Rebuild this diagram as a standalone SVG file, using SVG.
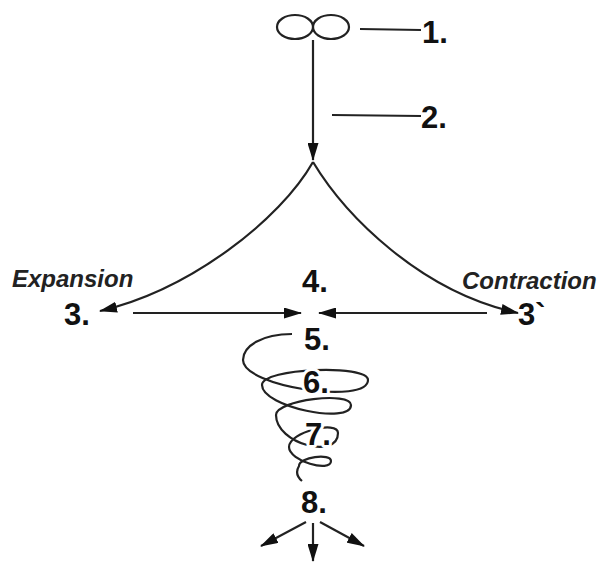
<svg xmlns="http://www.w3.org/2000/svg" width="610" height="563" viewBox="0 0 610 563">
<defs>
<marker id="ah" markerUnits="userSpaceOnUse" markerWidth="18" markerHeight="11" refX="17" refY="5.5" orient="auto">
<path d="M0,0 L18,5.5 L0,11 z" fill="#111"/>
</marker>
<style>
.ln{fill:none;stroke:#222;stroke-width:2.2}
.num{font-family:"Liberation Sans",Arial,sans-serif;font-weight:bold;font-size:31px;fill:#111}
.halo{paint-order:stroke;stroke:#fff;stroke-width:6;stroke-linejoin:round}
.lbl{font-family:"Liberation Sans",Arial,sans-serif;font-weight:bold;font-style:italic;font-size:24px;fill:#222}
</style>
</defs>
<rect width="610" height="563" fill="#fff"/>
<g id="connectors">
<line class="ln" x1="313" y1="40" x2="313" y2="160" marker-end="url(#ah)"/>
<line class="ln" x1="360" y1="29" x2="421" y2="30"/>
<line class="ln" x1="332" y1="115" x2="421" y2="116"/>
<path class="ln" d="M313,162 C280,220 190,290 100,311" marker-end="url(#ah)"/>
<path class="ln" d="M313,162 C345,215 420,292 518,313" marker-end="url(#ah)"/>
<line class="ln" x1="133" y1="313" x2="301" y2="313" marker-end="url(#ah)"/>
<line class="ln" x1="487" y1="313" x2="319" y2="313" marker-end="url(#ah)"/>
<line class="ln" x1="313" y1="523" x2="313" y2="561" marker-end="url(#ah)"/>
<line class="ln" x1="306" y1="522" x2="261" y2="546" marker-end="url(#ah)"/>
<line class="ln" x1="320" y1="522" x2="364" y2="546" marker-end="url(#ah)"/>
</g>
<g id="node1">
<ellipse class="ln" cx="295" cy="27" rx="18" ry="12"/>
<ellipse class="ln" cx="331" cy="27" rx="18" ry="12"/>
<text class="num" x="422" y="43">1.</text>
</g>
<g id="node2"><text class="num" x="421" y="128">2.</text></g>
<g id="node3">
<text class="lbl" x="12" y="287">Expansion</text>
<text class="num" x="64" y="325">3.</text>
</g>
<g id="node3b">
<text class="lbl" x="462" y="289">Contraction</text>
<text class="num" x="518" y="325">3`</text>
</g>
<g id="node4"><text class="num" x="302" y="292">4.</text></g>
<g id="spiral">
<path class="ln" d="M292,334 C262,334 243,346 243,360 C243,387 368,405 368,380 C368,364 262,368 262,385 C262,407 351,425 351,405 C351,391 276,400 276,415 C276,444 338,460 338,433 C338,420 289,432 289,447 C289,461 331,473 331,461 C331,453 299,457 299,466 C296,471 296,476 302,481"/>
</g>
<g id="node5"><text class="num halo" x="304" y="350">5.</text></g>
<g id="node6"><text class="num halo" x="303" y="393">6.</text></g>
<g id="node7"><text class="num halo" x="305" y="445">7.</text></g>
<g id="node8"><text class="num" x="301" y="513">8.</text></g>
</svg>
